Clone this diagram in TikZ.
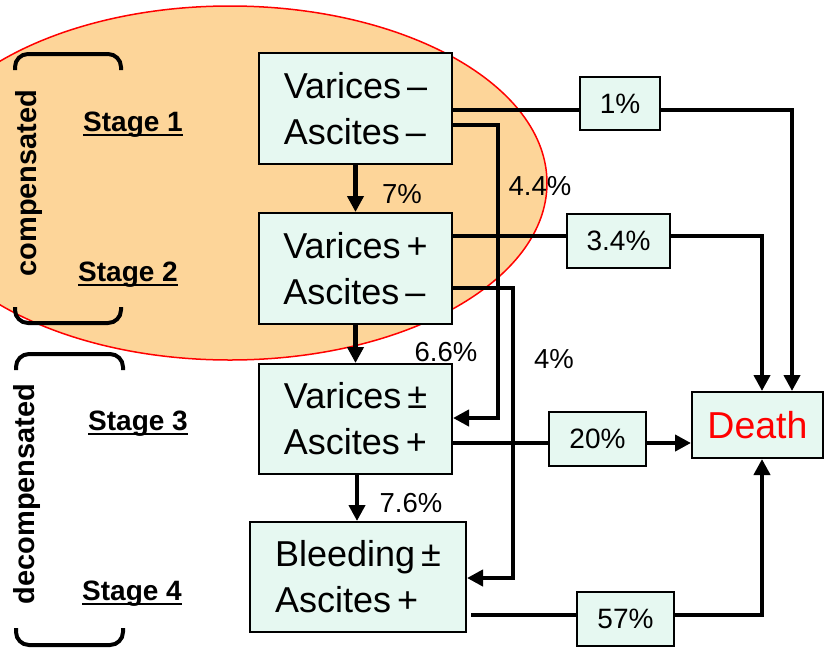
\documentclass[tikz,border=0pt]{standalone}
\usepackage{fontspec}
\setmainfont{Liberation Sans}
\usetikzlibrary{arrows.meta}

\definecolor{ovalfill}{RGB}{253,213,153}
\definecolor{boxfill}{RGB}{230,248,241}
\definecolor{deathred}{RGB}{255,0,0}

% underline that sits just below the baseline
\newcommand\stageul[1]{\setbox0\hbox{#1}\rlap{\rule[-5pt]{\wd0}{2.3pt}}\box0}

\tikzset{
  statebox/.style={draw=black, line width=2pt, fill=boxfill, inner sep=0pt,
    align=left, font=\fontsize{36}{46}\selectfont},
  ratebox/.style={draw=black, line width=2pt, fill=boxfill, inner sep=0pt,
    font=\fontsize{28}{30}\selectfont},
  flow/.style={line width=4.2pt},
  flowarrow/.style={line width=4.2pt, -{Triangle[length=16pt,width=16pt]}},
  rate/.style={font=\fontsize{27.5}{30}\selectfont, anchor=base, inner sep=0pt},
  stagelabel/.style={font=\bfseries\fontsize{28}{30}\selectfont, anchor=base, inner sep=0pt},
  phase/.style={font=\bfseries\fontsize{29}{30}\selectfont, rotate=90, inner sep=0pt},
  bracket/.style={line width=4pt, rounded corners=13pt}
}

\begin{document}
\begin{tikzpicture}[x=1pt, y=-1pt]
\useasboundingbox (0,0) rectangle (825,649);
\clip (0,0) rectangle (825,649);
\fill[white] (0,0) rectangle (825,649);

% compensated region
\draw[red, line width=1.5pt, fill=ovalfill] (230,183) ellipse [x radius=317, y radius=177];

% phase brackets
\draw[bracket] (15,70) -- (15,54) -- (121,54) -- (121,70);
\draw[bracket] (15,307) -- (15,323) -- (121,323) -- (121,307);
\draw[bracket] (16,370) -- (16,354) -- (123,354) -- (123,370);
\draw[bracket] (16,628) -- (16,645) -- (123,645) -- (123,628);

\node[phase] (comp) at (29,183) {compensated};
\node[phase] (decomp) at (27,494) {decompensated};

\node[stagelabel] (s1) at (133,131) {\stageul{Stage 1}};
\node[stagelabel] (s2) at (128,281) {\stageul{Stage 2}};
\node[stagelabel] (s3) at (138,430) {\stageul{Stage 3}};
\node[stagelabel] (s4) at (132,600) {\stageul{Stage 4}};

% clinical states
\node[statebox, minimum width=193, minimum height=111] (b1) at (355.5,108.5) {Varices\,–\\Ascites\,–};
\node[statebox, minimum width=193, minimum height=111] (b2) at (355.5,268.5) {Varices\,+\\Ascites\,–};
\node[statebox, minimum width=193, minimum height=110] (b3) at (355.5,419) {Varices\,±\\Ascites\,+};
\node[statebox, minimum width=216, minimum height=110] (b4) at (358,577) {Bleeding\,±\\Ascites\,+};
\node[statebox, minimum width=131, minimum height=66, text=deathred, font=\fontsize{37.5}{40}\selectfont] (death) at (757.5,425) {Death};

% mortality rates
\node[ratebox, minimum width=80, minimum height=53] (p1) at (620,103.5) {1\%};
\node[ratebox, minimum width=103, minimum height=54] (p34) at (618.5,241) {3.4\%};
\node[ratebox, minimum width=97, minimum height=54] (p20) at (597.5,439) {20\%};
\node[ratebox, minimum width=97, minimum height=54] (p57) at (625.5,619) {57\%};

% routing corners
\coordinate (c44) at (498,125);
\coordinate (c4) at (513,288);

% stage progression
\draw[flowarrow] (b1.south) -- (b2.north);
\draw[flowarrow] (b2.south) -- (b3.north);
\draw[flowarrow] (b3.south -| 357,0) -- (b4.north -| 357,0);
\draw[flowarrow] (b1.east |- c44) -| (c44 |- 0,418) -- (b3.east |- 0,418);
\draw[flowarrow] (b2.east |- c4) -| (c4 |- 0,578) -- (b4.east |- 0,578);

% transitions to death
\draw[flow] (b1.east |- 0,110) -- (p1.west |- 0,110);
\draw[flowarrow] (p1.east |- 0,110) -| ([xshift=34.5pt]death.north);
\draw[flow] (b2.east |- 0,236) -- (p34.west |- 0,236);
\draw[flowarrow] (p34.east |- 0,236) -| ([xshift=4.5pt]death.north);
\draw[flow] (b3.east |- 0,443) -- (p20.west |- 0,443);
\draw[flowarrow] (p20.east |- 0,443) -- (death.west |- 0,443);
\draw[flow] ([xshift=4pt]b4.east |- 0,615) -- (p57.west |- 0,615);
\draw[flowarrow] (p57.east |- 0,615) -| ([xshift=4.5pt]death.south);

% transition rates
\node[rate] (r7) at (402,203) {7\%};
\node[rate] (r44) at (540,195) {4.4\%};
\node[rate] (r66) at (446,361) {6.6\%};
\node[rate] (r4) at (554,368) {4\%};
\node[rate] (r76) at (411,512) {7.6\%};
\end{tikzpicture}
\end{document}
